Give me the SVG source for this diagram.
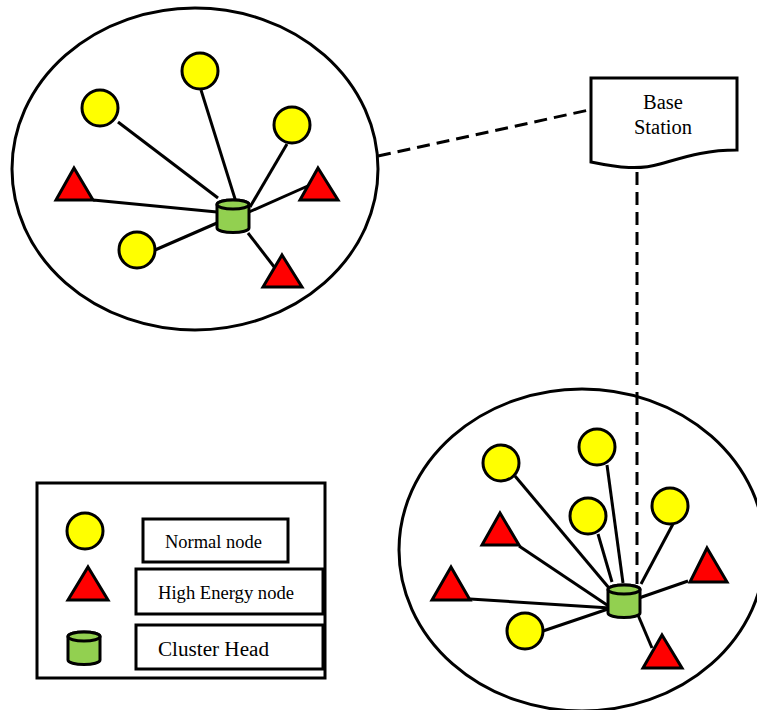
<svg xmlns="http://www.w3.org/2000/svg" width="757" height="710" viewBox="0 0 757 710">
<style>
.cl{fill:none;stroke:#000;stroke-width:3}
.ln{stroke:#000;stroke-width:3;fill:none}
.dash{stroke:#000;stroke-width:3;fill:none;stroke-dasharray:13 7}
.nn{fill:#FFFF00;stroke:#000;stroke-width:3}
.he{fill:#FF0000;stroke:#000;stroke-width:3;stroke-linejoin:miter}
.ch{fill:#92D050;stroke:#000;stroke-width:3}
.box{fill:#fff;stroke:#000;stroke-width:3}
.t{font-family:"Liberation Serif","Times New Roman",serif;fill:#000}
</style>
<defs>
<g id="cyl">
<path class="ch" d="M-16,-11.5 V12 A16,4.5 0 0 0 16,12 V-11.5 A16,4.5 0 0 0 -16,-11.5 Z"/>
<ellipse class="ch" cx="0" cy="-11.5" rx="16" ry="4.5"/>
</g>
</defs>
<rect width="757" height="710" fill="#fff"/>

<g id="cluster1">
<ellipse class="cl" cx="195" cy="169" rx="183" ry="161"/>
</g>
<g id="cluster2">
<ellipse class="cl" cx="582" cy="550" rx="183" ry="161"/>
</g>

<g id="connectors">
<line class="dash" x1="378" y1="156" x2="589" y2="110"/>
<line class="dash" x1="637" y1="172" x2="637" y2="584"/>
<line class="ln" x1="118" y1="122" x2="218" y2="198"/>
<line class="ln" x1="201" y1="90" x2="236" y2="202"/>
<line class="ln" x1="287" y1="144" x2="250" y2="207"/>
<line class="ln" x1="310" y1="185" x2="249" y2="212"/>
<line class="ln" x1="93" y1="200" x2="217" y2="212"/>
<line class="ln" x1="155" y1="250" x2="217" y2="223"/>
<line class="ln" x1="248" y1="233" x2="275" y2="268"/>
<line class="ln" x1="515" y1="476" x2="609" y2="588"/>
<line class="ln" x1="607" y1="465" x2="623" y2="583"/>
<line class="ln" x1="598" y1="534" x2="612" y2="582"/>
<line class="ln" x1="673" y1="524" x2="641" y2="584"/>
<line class="ln" x1="519" y1="546" x2="610" y2="607"/>
<line class="ln" x1="470" y1="599" x2="610" y2="608"/>
<line class="ln" x1="543" y1="631" x2="608" y2="609"/>
<line class="ln" x1="688" y1="581" x2="639" y2="598"/>
<line class="ln" x1="638" y1="615" x2="652" y2="648"/>
</g>

<g id="c1-n1"><circle class="nn" cx="100" cy="108" r="18"/></g>
<g id="c1-n2"><circle class="nn" cx="200" cy="71" r="18"/></g>
<g id="c1-n3"><circle class="nn" cx="292" cy="125" r="18"/></g>
<g id="c1-n4"><circle class="nn" cx="137" cy="250" r="18"/></g>
<g id="c1-h1"><polygon class="he" points="74,168 93,200 56,200"/></g>
<g id="c1-h2"><polygon class="he" points="318,168 338,200 300,200"/></g>
<g id="c1-h3"><polygon class="he" points="282,255 302,287 263,287"/></g>
<g id="c1-head"><use href="#cyl" x="233" y="216"/></g>

<g id="c2-n1"><circle class="nn" cx="501" cy="463" r="18"/></g>
<g id="c2-n2"><circle class="nn" cx="597" cy="447" r="18"/></g>
<g id="c2-n3"><circle class="nn" cx="588" cy="516" r="18"/></g>
<g id="c2-n4"><circle class="nn" cx="670" cy="506" r="18"/></g>
<g id="c2-n5"><circle class="nn" cx="525" cy="631" r="18"/></g>
<g id="c2-h1"><polygon class="he" points="500,513 519,545 482,545"/></g>
<g id="c2-h2"><polygon class="he" points="451,567 470,600 432,600"/></g>
<g id="c2-h3"><polygon class="he" points="707,548 727,582 690,582"/></g>
<g id="c2-h4"><polygon class="he" points="662,635 682,668 643,668"/></g>
<g id="c2-head"><use href="#cyl" x="624" y="601"/></g>

<g id="base-station">
<path class="box" d="M591,78 H737 V150 C705,150 685,157 660,164 C640,170 620,168 591,162 Z"/>
<text class="t" x="663" y="109" font-size="20.5" text-anchor="middle">Base</text>
<text class="t" x="663" y="134" font-size="20.5" text-anchor="middle">Station</text>
</g>

<g id="legend">
<rect class="box" x="37" y="483" width="288" height="195"/>
<circle class="nn" cx="85" cy="531" r="18"/>
<polygon class="he" points="88,567 108,600 68,600"/>
<use href="#cyl" x="84" y="648"/>
<rect class="box" x="143" y="519" width="145" height="43"/>
<text class="t" x="165" y="548" font-size="18" textLength="97" lengthAdjust="spacingAndGlyphs">Normal node</text>
<rect class="box" x="136" y="569" width="187" height="45"/>
<text class="t" x="158" y="599" font-size="18" textLength="136" lengthAdjust="spacingAndGlyphs">High Energy node</text>
<rect class="box" x="136" y="625" width="187" height="44"/>
<text class="t" x="158" y="656" font-size="20.5" textLength="111" lengthAdjust="spacingAndGlyphs">Cluster Head</text>
</g>
</svg>
